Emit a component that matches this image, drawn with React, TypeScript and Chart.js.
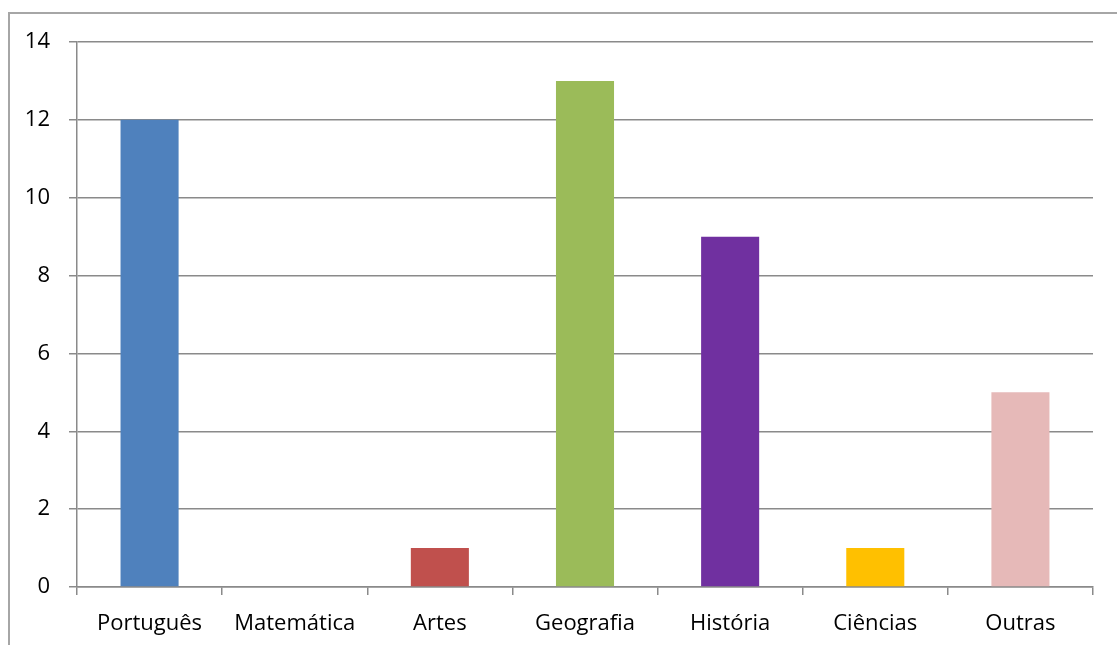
import React, { useEffect, useRef } from "react";
import { Chart, registerables } from "chart.js";

Chart.register(...registerables);

const categories = ["Português", "Matemática", "Artes", "Geografia", "História", "Ciências", "Outras"];
const values = [12, 0, 1, 13, 9, 1, 5];
const barColors = ["#4F81BD", "#8064A2", "#C0504D", "#9BBB59", "#7030A0", "#FFC000", "#E6B9B8"];
const yMin = 0;
const yMax = 14;
const yStep = 2;

const FONT = "'Open Sans', 'Noto Sans', sans-serif";
const GRID = "#8a8a8a";

export default function App() {
  const ref = useRef<HTMLCanvasElement | null>(null);

  useEffect(() => {
    if (!ref.current) return;
    const chart = new Chart(ref.current, {
      type: "bar",
      data: {
        labels: categories,
        datasets: [
          {
            data: values,
            backgroundColor: barColors,
            borderWidth: 0,
            categoryPercentage: 1,
            barPercentage: 0.4,
          },
        ],
      },
      options: {
        animation: false,
        responsive: false,
        maintainAspectRatio: false,
        layout: { padding: { left: 0, top: 42, right: 24, bottom: 0 } },
        plugins: {
          legend: { display: false },
          tooltip: { enabled: false },
        },
        scales: {
          x: {
            offset: true,
            grid: {
              offset: true,
              drawOnChartArea: false,
              drawTicks: true,
              tickLength: 8,
              color: GRID,
              lineWidth: 1.5,
            },
            border: { display: true, color: GRID, width: 1.5 },
            ticks: {
              color: "#000",
              font: { family: FONT, size: 22 },
              padding: 16,
              maxRotation: 0,
              autoSkip: false,
            },
            afterFit: (scale: any) => {
              scale.height = 645 - 587;
            },
          },
          y: {
            min: yMin,
            max: yMax,
            grid: {
              drawOnChartArea: true,
              drawTicks: true,
              tickLength: 8,
              color: GRID,
              lineWidth: 1.5,
            },
            border: { display: true, color: GRID, width: 1.5 },
            ticks: {
              stepSize: yStep,
              color: "#000",
              font: { family: FONT, size: 22 },
              padding: 19,
            },
            afterFit: (scale: any) => {
              scale.width = 77;
            },
          },
        },
      },
    });
    return () => chart.destroy();
  }, []);

  return (
    <div style={{ position: "fixed", left: 0, top: 0, width: 1117, height: 645, overflow: "hidden", background: "#fff" }}>
      <div
        style={{
          position: "absolute",
          left: 8,
          top: 12,
          width: 1200,
          height: 700,
          border: "2px solid #a6a6a6",
          boxSizing: "border-box",
        }}
      />
      <canvas ref={ref} width={1117} height={645} style={{ position: "absolute", left: 0, top: 0, width: 1117, height: 645 }} />
    </div>
  );
}
